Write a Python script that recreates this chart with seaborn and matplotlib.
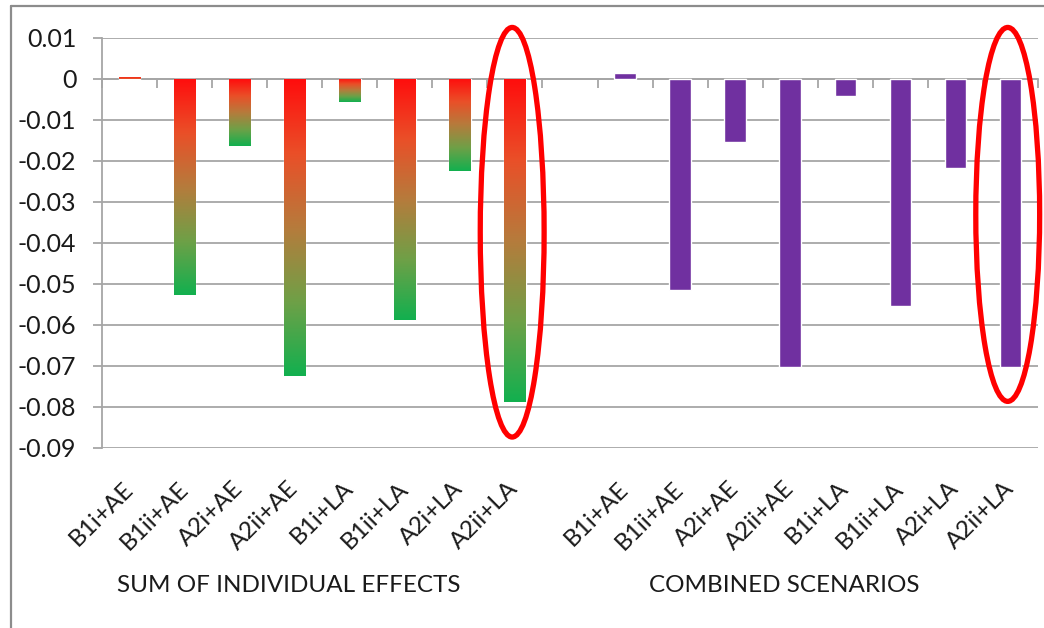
import numpy as np
import pandas as pd
import matplotlib
matplotlib.use("Agg")
import matplotlib.pyplot as plt
import matplotlib.transforms as mtransforms
from matplotlib.patches import Ellipse
from matplotlib.lines import Line2D
from matplotlib.colors import LinearSegmentedColormap
import seaborn as sns

# Scenario names shared by both groups
scenarios = ["B1i+AE", "B1ii+AE", "A2i+AE", "A2ii+AE",
             "B1i+LA", "B1ii+LA", "A2i+LA", "A2ii+LA"]

# Change in the indicator, per scenario
sum_of_effects = [0.0005, -0.0527, -0.0163, -0.0724,
                  -0.0057, -0.0589, -0.0226, -0.0789]
combined_scenarios = [0.0014, -0.0515, -0.0154, -0.0702,
                      -0.0042, -0.0554, -0.0217, -0.0702]

group_titles = ["SUM OF INDIVIDUAL EFFECTS", "COMBINED SCENARIOS"]

y_ticks = [0.01, 0.0, -0.01, -0.02, -0.03, -0.04, -0.05, -0.06, -0.07, -0.08, -0.09]
y_tick_labels = ["0.01", "0", "-0.01", "-0.02", "-0.03", "-0.04",
                 "-0.05", "-0.06", "-0.07", "-0.08", "-0.09"]

# Bars to circle: (group, scenario)
highlighted = [("sum", "A2ii+LA"), ("combined", "A2ii+LA")]

sns.set_style("white")
plt.rcParams["font.family"] = ["Lato", "DejaVu Sans"]
plt.rcParams["axes.unicode_minus"] = False

GRID = "#A6A6A6"
PURPLE = "#7030A0"
TEXT = "#1A1A1A"

slots_sum = [f"{s} | sum" for s in scenarios]
slots_comb = [f"{s} | combined" for s in scenarios]
spacer = "spacer"
order = slots_sum + [spacer] + slots_comb

df_sum = pd.DataFrame({"slot": slots_sum, "value": sum_of_effects})
df_comb = pd.DataFrame({"slot": slots_comb, "value": combined_scenarios})

fig = plt.figure(figsize=(10.44, 6.28), dpi=100)
ax = fig.add_axes([102 / 1044, 1 - 447.7 / 628, 936 / 1044, 410 / 628])

sns.barplot(data=df_sum, x="slot", y="value", order=order, color="#FF1010",
            width=0.39, saturation=1, errorbar=None, ax=ax, zorder=3)
sns.barplot(data=df_comb, x="slot", y="value", order=order, color=PURPLE,
            width=0.39, saturation=1, errorbar=None, ax=ax, zorder=3)

# Red-to-green vertical gradient on the "sum of effects" bars
heat = LinearSegmentedColormap.from_list(
    "heat", ["#FF0D0D", "#EA4F28", "#B67B3C", "#6FA047", "#12B04F"])
for bar in ax.patches[:len(scenarios)]:
    x0, y0 = bar.get_x(), bar.get_y()
    w, h = bar.get_width(), bar.get_height()
    lo, hi = min(y0, y0 + h), max(y0, y0 + h)
    # bars above zero only show the warm end of the ramp
    stop = 1.0 if h < 0 else 0.3
    gradient = np.linspace(0, stop, 256).reshape(-1, 1)
    img = ax.imshow(gradient, cmap=heat, vmin=0, vmax=1, aspect="auto",
                    origin="upper", extent=(x0, x0 + w, lo, hi), zorder=3.5,
                    interpolation="bilinear")
    img.set_clip_path(bar)

ax.set_xlim(-0.5, len(order) - 0.5)
ax.set_ylim(-0.09, 0.01)

# Y axis
ax.set_yticks(y_ticks, y_tick_labels)
ax.yaxis.grid(True, color=GRID, lw=1.3)
ax.xaxis.grid(False)
ax.set_axisbelow(True)
ax.tick_params(axis="y", direction="out", length=6.5, width=1.3, color=GRID,
               labelsize=18, labelcolor=TEXT, pad=12, left=True)
for side in ["top", "right", "bottom"]:
    ax.spines[side].set_visible(False)
ax.spines["left"].set_color(GRID)
ax.spines["left"].set_linewidth(1.3)
ax.set_xlabel("")
ax.set_ylabel("")

# Category labels along the bottom
ax.set_xticks(range(len(order)), scenarios + [""] + scenarios)
ax.tick_params(axis="x", length=0, pad=27, labelsize=17.5, labelcolor=TEXT)
for lbl in ax.get_xticklabels():
    lbl.set_rotation(45)
    lbl.set_ha("right")
    lbl.set_va("center")
    lbl.set_rotation_mode("anchor")

# Zero line with category separators
zero_frac = (0 - (-0.09)) / (0.01 - (-0.09))
zero_axis = ax.secondary_xaxis(zero_frac)
zero_axis.set_alignment("bottom")
zero_axis.set_xticks(np.arange(-0.5, len(order), 1.0))
zero_axis.tick_params(axis="x", direction="out", length=6.5, width=1.3,
                      color=GRID, labelbottom=False, labeltop=False)
zero_axis.spines["bottom"].set_color(GRID)
zero_axis.spines["bottom"].set_linewidth(1.3)

# Group titles below the category labels
title_tf = mtransforms.blended_transform_factory(ax.transData, fig.transFigure)
for title, slots in zip(group_titles, [slots_sum, slots_comb]):
    center = (order.index(slots[0]) + order.index(slots[-1])) / 2 - 0.6
    ax.text(center, 0.068, title, transform=title_tf,
            fontsize=17.5, color=TEXT, ha="center", va="center")

# Circle the highlighted bars
values = {"sum": dict(zip(scenarios, sum_of_effects)),
          "combined": dict(zip(scenarios, combined_scenarios))}
for group, name in highlighted:
    xi = order.index(f"{name} | {group}")
    val = values[group][name]
    top = 0.0125
    bottom = val - 0.0085
    ax.add_patch(Ellipse((xi - 0.05, (top + bottom) / 2), width=1.16,
                         height=top - bottom, fill=False, edgecolor="#FF0000",
                         lw=3.8, zorder=6, clip_on=False))

# Chart-area frame
fy = 1 - 6 / 628
fx = 11 / 1044
fig.add_artist(Line2D([fx, 1.0], [fy, fy], transform=fig.transFigure,
                      color="#8C8C8C", lw=1.6))
fig.add_artist(Line2D([fx, fx], [0.0, fy], transform=fig.transFigure,
                      color="#8C8C8C", lw=1.6))

fig.savefig("out.png", dpi=100, facecolor="white")
